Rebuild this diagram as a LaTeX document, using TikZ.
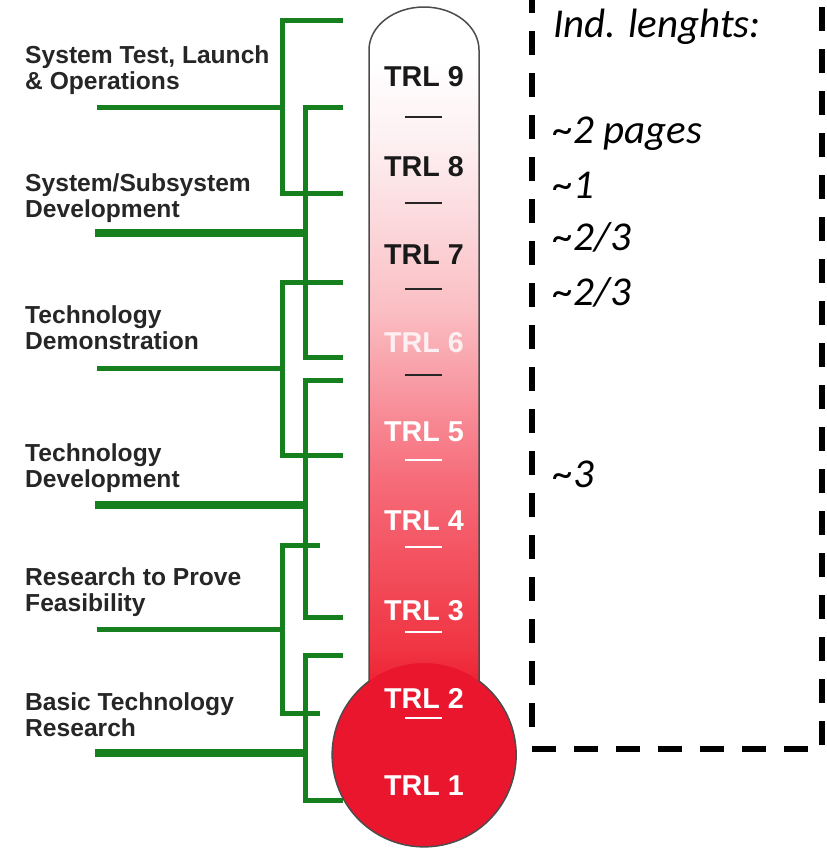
\documentclass[tikz,border=0pt]{standalone}
\usepackage{fontspec}
\setmainfont{Liberation Sans}
\newfontfamily\notefont{Carlito}
\definecolor{trlgreen}{RGB}{22,128,30}
\definecolor{bulbred}{RGB}{233,22,45}
\definecolor{tubeA}{RGB}{238,36,52}
\definecolor{tubeB}{RGB}{240,52,66}
\definecolor{tubeC}{RGB}{246,108,122}
\definecolor{tubeD}{RGB}{250,190,195}
\definecolor{tubeE}{RGB}{253,240,242}
\pgfdeclareverticalshading{tubeshade}{100bp}{color(0bp)=(tubeA); color(25bp)=(tubeA); color(27.3bp)=(tubeB); color(40bp)=(tubeC); color(52.5bp)=(tubeD); color(65bp)=(tubeE); color(71bp)=(white); color(100bp)=(white)}

\begin{document}
\begin{tikzpicture}[x=0.3mm,y=-0.3mm,
    phase/.style={anchor=north west, inner sep=0pt, align=left, text=black!85,
      font=\fontsize{21}{22.5}\selectfont\bfseries},
    trl/.style={inner sep=0pt, font=\fontsize{24.5}{25}\selectfont\bfseries},
    note/.style={anchor=base west, inner sep=0pt,
      font=\notefont\itshape\fontsize{35}{37}\selectfont},
    spine/.style={trlgreen, line width=1.5mm},
    stub/.style={trlgreen, line width=1.5mm},
    thickstub/.style={trlgreen, line width=2.3mm},
    level/.style={line width=0.85mm},
    frame/.style={line width=1.95mm, dash pattern=on 7.2mm off 5.4mm}]
	\clip (0,0) rectangle (827,849);
	% phase labels
	\node[phase] (p1) at (25,45) {System Test, Launch\\\& Operations};
	\node[phase] (p2) at (25,173) {System/Subsystem\\Development};
	\node[phase] (p3) at (25,305) {Technology\\Demonstration};
	\node[phase] (p4) at (25,443) {Technology\\Development};
	\node[phase] (p5) at (25,567) {Research to Prove\\Feasibility};
	\node[phase] (p6) at (25,692) {Basic Technology\\Research};
	% green brackets
	\draw[spine] (343,20) -- (282,20) -- (282,193) -- (343,193);
	\draw[stub] (97,107) -- (282,107);
	\draw[spine] (343,107) -- (305,107) -- (305,357) -- (343,357);
	\draw[thickstub] (95,233) -- (305,233);
	\draw[spine] (343,282) -- (282,282) -- (282,455) -- (343,455);
	\draw[stub] (97,368) -- (282,368);
	\draw[spine] (343,380) -- (305,380) -- (305,617) -- (343,617);
	\draw[thickstub] (95,505) -- (305,505);
	\draw[spine] (320,545) -- (282,545) -- (282,713) -- (320,713);
	\draw[stub] (97,629) -- (282,629);
	\draw[spine] (343,655) -- (305,655) -- (305,800) -- (343,800);
	\draw[thickstub] (95,753) -- (305,753);
	% thermometer
	\shade[shading=tubeshade] (369,681) -- (369,50) arc[start angle=180, end angle=360, x radius=55, y radius=43] -- (479,681) -- cycle;
	\fill[bulbred] (424,755) circle[radius=92];
	\draw[black!70, line width=0.45mm] (369,681) -- (369,50) arc[start angle=180, end angle=360, x radius=55, y radius=43] -- (479,681) arc[start angle=-53.4, end angle=233.4, radius=92];
	\foreach \n/\y/\c in {9/77/black!90, 8/167/black!90, 7/255/black!90, 6/343/tubeE, 5/432/white, 4/521/white, 3/611/white, 2/698/white, 1/786/white}
		\node[trl, text=\c] (t\n) at (424,\y) {TRL \n};
	\foreach \y/\c in {117/black!85, 203/black!85, 289/black!85, 375/black!85, 460/white, 547/white, 632/white, 718/white}
		\draw[level, draw=\c] (405,\y) -- (442,\y);
	% dashed box
	\draw[frame] (532,727) -- (532,-30);
	\draw[frame] (532,749) -- (822,749);
	\draw[frame] (822,745) -- (822,-30);
	\node[note] (n0) at (553,37) {Ind. lenghts:};
	\node[note] (n1) at (553,143) {\textasciitilde 2 pages};
	\node[note] (n2) at (553,198) {\textasciitilde 1};
	\node[note] (n3) at (553,250) {\textasciitilde 2/3};
	\node[note] (n4) at (553,305) {\textasciitilde 2/3};
	\node[note] (n5) at (553,487) {\textasciitilde 3};
\end{tikzpicture}
\end{document}
